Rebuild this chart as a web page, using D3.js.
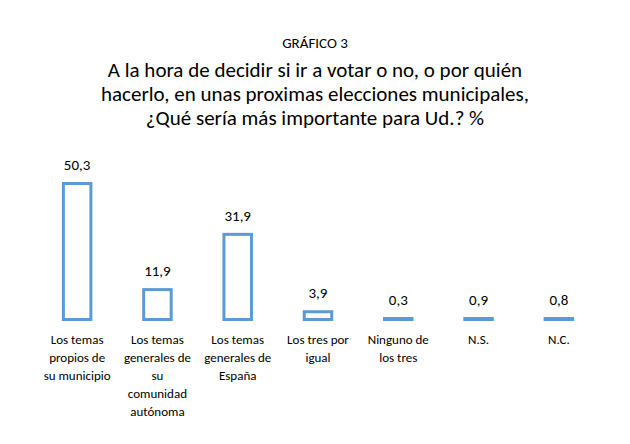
<!DOCTYPE html>
<html><head><meta charset="utf-8">
<script src="https://cdn.jsdelivr.net/npm/d3@7"></script>
<style>body{margin:0;background:#fff}svg{font-family:Carlito,"Open Sans",sans-serif}</style>
</head><body><div id="c"></div>
<script>
// Data
var categories = [
	['Los temas', 'propios de', 'su municipio'],
	['Los temas', 'generales de', 'su', 'comunidad', 'autónoma'],
	['Los temas', 'generales de', 'España'],
	['Los tres por', 'igual'],
	['Ninguno de', 'los tres'],
	['N.S.'],
	['N.C.']
];
var values = [50.3, 11.9, 31.9, 3.9, 0.3, 0.9, 0.8];
var titleLines = [
	'A la hora de decidir si ir a votar o no, o por quién',
	'hacerlo, en unas proximas elecciones municipales,',
	'¿Qué sería más importante para Ud.? %'
];

var W = 630, H = 444, color = '#5B9BD5';
var svg = d3.select('#c').append('svg').attr('width', W).attr('height', H);

var x = d3.scaleBand().domain(d3.range(values.length)).range([37, 599]).paddingInner(0.62).paddingOuter(0.31);
var y = d3.scaleLinear().domain([0, 50.3]).range([321, 182]);

svg.append('text').attr('x', 315).attr('y', 48).attr('text-anchor', 'middle')
	.style('font-size', '15px').text('GRÁFICO 3');
titleLines.forEach(function(t, i) {
	svg.append('text').attr('x', 315).attr('y', 77 + i * 24).attr('text-anchor', 'middle')
		.style('font-size', '21px').text(t);
});

var g = svg.selectAll('.bar').data(values).enter().append('g');
g.append('rect')
	.attr('x', function(d, i) { return x(i) + 1.5; })
	.attr('width', x.bandwidth() - 3)
	.attr('y', function(d) { return Math.min(y(d), y(0) - 4) + 1.5; })
	.attr('height', function(d) { return Math.max(y(0) - y(d) - 3, 1); })
	.attr('fill', '#fff').attr('stroke', color).attr('stroke-width', 3);
g.append('text')
	.attr('x', function(d, i) { return x(i) + x.bandwidth() / 2; })
	.attr('y', function(d) { return Math.min(y(d), y(0) - 4) - 12; })
	.attr('text-anchor', 'middle').style('font-size', '15px')
	.text(function(d) { return d3.format('.1f')(d).replace('.', ','); });

categories.forEach(function(lines, i) {
	lines.forEach(function(l, j) {
		svg.append('text').attr('x', x(i) + x.bandwidth() / 2).attr('y', 344 + j * 18)
			.attr('text-anchor', 'middle').style('font-size', '13px').text(l);
	});
});
</script></body></html>
